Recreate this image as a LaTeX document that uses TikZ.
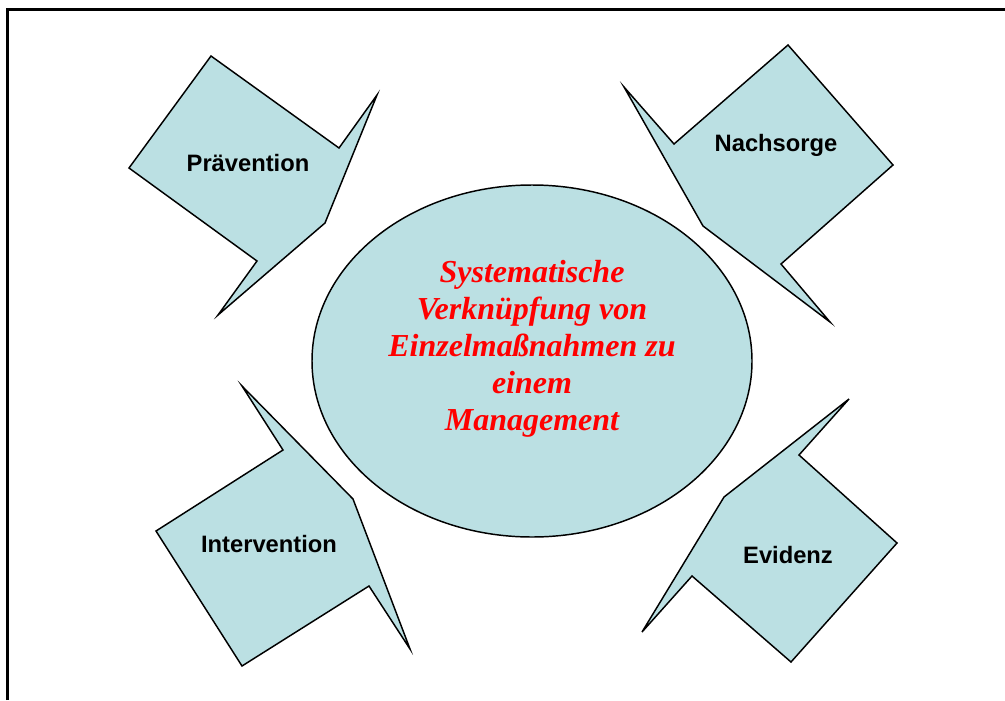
\documentclass[tikz,border=0pt]{standalone}
\usepackage{fontspec}
\setmainfont{Liberation Sans}
\newfontfamily\serifbi{Liberation Serif}
\usetikzlibrary{shapes.geometric}

\definecolor{hellblau}{RGB}{187,224,227}
\definecolor{rotschrift}{RGB}{255,0,0}

\tikzset{
  pfeilform/.style={draw=black,fill=hellblau,line width=1.1pt,line join=miter},
  etikett/.style={inner sep=0.75pt,font=\bfseries\fontsize{17.8}{20}\selectfont},
}

\begin{document}
\begin{tikzpicture}[x=0.75pt,y=0.75pt,yscale=-1,xscale=1]
\useasboundingbox (0,0) rectangle (1005,700);

%Frame (left and top edge)
\draw [line width=1.6pt]  (7.5,700) -- (7.5,9.5) -- (1005,9.5) ;

%Shape: Callout [Praevention]
\draw [pfeilform]  (211,56) -- (339,148) -- (377,95) -- (325,223) -- (218,315) -- (257,261) -- (129,168) -- cycle ;
%Shape: Callout [Nachsorge]
\draw [pfeilform]  (788,45) -- (893,165) -- (781,264) -- (830,322) -- (703,226) -- (624,87) -- (674,144) -- cycle ;
%Shape: Callout [Intervention]
\draw [pfeilform]  (242,386) -- (283,450) -- (156,531) -- (242,666) -- (369,586) -- (410,649) -- (353,499) -- cycle ;
%Shape: Callout [Evidenz]
\draw [pfeilform]  (849,399) -- (799,455) -- (897,543) -- (791,662) -- (692,576) -- (642,632) -- (724,497) -- cycle ;

%Shape: Ellipse
\draw (532,361) node [ellipse,pfeilform,minimum width=330pt,minimum height=264pt] (kern) {};
% Text Node
\draw (532,349) node [inner sep=0.75pt,align=center,text=rotschrift,font=\serifbi\bfseries\itshape\fontsize{24}{27.7}\selectfont] (kerntext) {Systematische\\Verknüpfung von\\Einzelmaßnahmen zu\\einem\\Management};

% Text Node
\draw (248,163) node [etikett] (praev) {Prävention};
% Text Node
\draw (776,145) node [etikett] (nach) {Nachsorge};
% Text Node
\draw (269,544) node [etikett] (interv) {Intervention};
% Text Node
\draw (788,555) node [etikett] (evid) {Evidenz};

\end{tikzpicture}
\end{document}
